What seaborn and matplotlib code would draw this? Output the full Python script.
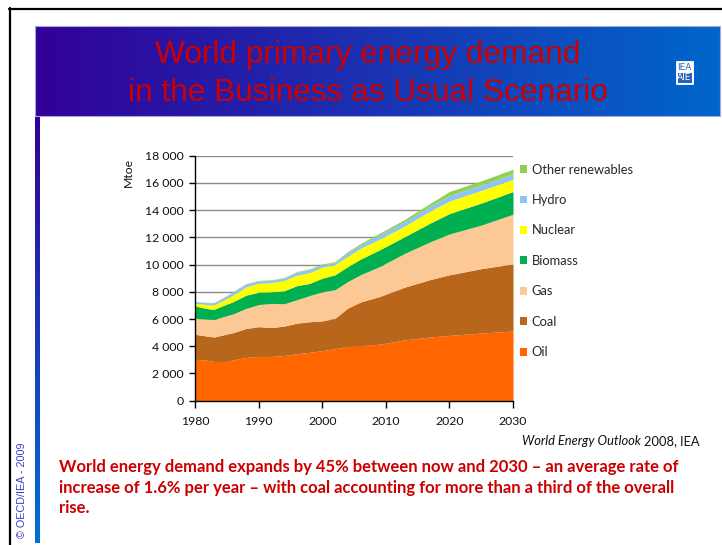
import numpy as np
import matplotlib
matplotlib.use("Agg")
import matplotlib.pyplot as plt
from matplotlib.patches import Patch, Rectangle
from matplotlib.lines import Line2D
from matplotlib.colors import to_rgb
import seaborn as sns

# World primary energy demand by fuel, Mtoe (Reference / Business as Usual)
years = [1980, 1982, 1983, 1985, 1986, 1988, 1990, 1992, 1994, 1996, 1998,
         2000, 2002, 2004, 2006, 2009, 2013, 2017, 2020, 2025, 2030]
oil = [3050, 2960, 2880, 2880, 3000, 3180, 3250, 3250, 3320, 3450, 3550,
       3680, 3820, 4000, 4050, 4150, 4470, 4680, 4800, 4970, 5120]
coal = [1830, 1780, 1800, 2020, 2000, 2120, 2190, 2120, 2160, 2250, 2250,
        2180, 2230, 2800, 3200, 3500, 3880, 4220, 4450, 4730, 4930]
gas = [1170, 1260, 1290, 1350, 1380, 1480, 1620, 1780, 1640, 1720, 1920,
       2140, 2100, 1950, 2000, 2200, 2480, 2780, 3000, 3200, 3650]
biomass = [910, 760, 750, 850, 900, 970, 910, 850, 960, 1030, 900,
           1000, 1100, 1100, 1150, 1230, 1230, 1380, 1500, 1620, 1670]
nuclear = [200, 300, 320, 400, 490, 610, 650, 680, 740, 770, 780,
           800, 750, 750, 800, 780, 780, 880, 920, 930, 900]
hydro = [120, 140, 160, 200, 230, 210, 180, 160, 180, 220, 220,
         170, 150, 250, 250, 320, 320, 370, 400, 400, 410]
other_renewables = [20, 20, 20, 30, 30, 30, 40, 40, 50, 50, 60,
                    70, 70, 100, 100, 120, 170, 200, 300, 300, 330]

fuels = ["Oil", "Coal", "Gas", "Biomass", "Nuclear", "Hydro", "Other renewables"]
fuel_colors = ["#FF6600", "#B8661B", "#FCC896", "#00B050", "#FFFF00", "#8EC3F7", "#92D050"]
x_ticks = [1980, 1990, 2000, 2010, 2020, 2030]
y_ticks = list(range(0, 18001, 2000))

title_lines = ["World primary energy demand", "in the Business as Usual Scenario"]
note_lines = [
    "World energy demand expands by 45% between now and 2030 \u2013 an average rate of",
    "increase of 1.6% per year \u2013 with coal accounting for more than a third of the overall",
    "rise.",
]

sns.set_style("white")
plt.rcParams["font.family"] = ["Lato", "DejaVu Sans"]

W, H = 722, 545
fig = plt.figure(figsize=(W / 100, H / 100), dpi=100)
fig.patch.set_facecolor("white")


def fx(x):
    return x / W


def fy(y):
    return 1 - y / H


def gradient(c1, c2, n=256):
    a, b = np.array(to_rgb(c1)), np.array(to_rgb(c2))
    t = np.linspace(0, 1, n)[:, None]
    return a + (b - a) * t


# slide frame
fig.add_artist(Line2D([fx(9), fx(722)], [fy(8.5), fy(8.5)], color="black", lw=1.6))
fig.add_artist(Line2D([fx(9.5), fx(9.5)], [fy(8), fy(545)], color="black", lw=1.6))

# title banner with horizontal gradient
bax = fig.add_axes([fx(35), fy(116), fx(720) - fx(35), fy(26) - fy(116)])
bax.imshow(gradient("#330099", "#0066CC")[None, :, :], aspect="auto", extent=[0, 1, 0, 1])
bax.set_xlim(0, 1)
bax.set_ylim(0, 1)
bax.axis("off")
fig.add_artist(Rectangle((fx(35), fy(116)), fx(720) - fx(35), fy(26) - fy(116),
                         transform=fig.transFigure, fill=False, ec="#A8A8E0", lw=0.8))
fig.text(fx(368), fy(55), title_lines[0], ha="center", va="center", color="#CC0000",
         fontsize=22.8, family="Liberation Sans")
fig.text(fx(368), fy(93), title_lines[1], ha="center", va="center", color="#CC0000",
         fontsize=22.8, family="Liberation Sans")

# logo box
fig.add_artist(Rectangle((fx(676), fy(84)), fx(17), fy(61) - fy(84), transform=fig.transFigure,
                         fc="white", ec="white", lw=0.6))
fig.add_artist(Rectangle((fx(677.5), fy(82.5)), fx(14), fy(73) - fy(82.5), transform=fig.transFigure,
                         fc="#2a5fc0", ec="none"))
fig.text(fx(684.5), fy(67), "IEA", ha="center", va="center", color="#2a5fc0", fontsize=6.4,
         family="Liberation Sans Narrow")
fig.text(fx(684.5), fy(78), "AIE", ha="center", va="center", color="white", fontsize=6.4,
         family="Liberation Sans Narrow")

# vertical side bar
sax = fig.add_axes([fx(35), fy(543), fx(5), fy(117) - fy(543)])
sax.imshow(gradient("#330099", "#0070D8")[:, None, :], aspect="auto", extent=[0, 1, 0, 1])
sax.axis("off")
fig.text(fx(22.5), fy(490), "\u00a9 OECD/IEA - 2009", rotation=90, ha="center", va="center",
         color="#3B3BC8", fontsize=7.8, family="Liberation Sans")

# stacked area chart
ax = fig.add_axes([fx(195), fy(400.7), fx(513) - fx(195), fy(155.7) - fy(400.7)])
series = [oil, coal, gas, biomass, nuclear, hydro, other_renewables]
ax.stackplot(years, *series, colors=fuel_colors, labels=fuels, lw=0, zorder=2)
ax.set_xlim(1980, 2030)
ax.set_ylim(0, 18000)
ax.set_yticks(y_ticks)
ax.set_yticklabels([f"{v:,}".replace(",", " ") for v in y_ticks])
ax.set_xticks(x_ticks)
ax.yaxis.grid(True, color="#8C8C8C", lw=1.0, zorder=0)
ax.xaxis.grid(False)
ax.set_axisbelow(True)
for side in ("top", "right"):
    ax.spines[side].set_visible(False)
for side in ("left", "bottom"):
    ax.spines[side].set_color("black")
    ax.spines[side].set_linewidth(1.0)
    ax.spines[side].set_zorder(3)
ax.tick_params(axis="both", which="major", direction="out", length=4, width=1,
               color="black", labelsize=8.8, labelcolor="#111111", left=True, bottom=True)
ax.tick_params(axis="y", pad=4)
ax.tick_params(axis="x", pad=6, length=5)

fig.text(fx(128), fy(172), "Mtoe", rotation=90, ha="center", va="center", fontsize=8.8,
         color="#111111")

# legend, top entry first
handles = [Patch(facecolor=c, edgecolor="none") for c in fuel_colors][::-1]
ax.legend(handles, fuels[::-1], loc="upper left", bbox_to_anchor=(fx(520), fy(163.5)),
          bbox_transform=fig.transFigure, frameon=False, fontsize=9.3,
          handlelength=0.55, handleheight=0.55, handletextpad=0.35, labelspacing=1.43,
          borderaxespad=0, borderpad=0)

# source line
renderer = fig.canvas.get_renderer()
src = fig.text(fx(700), fy(441), "2008, IEA", ha="right", va="center", fontsize=9.3,
               color="#111111")
bb = src.get_window_extent(renderer)
fig.text((bb.x0 - 3) / W, fy(441), "World Energy Outlook", ha="right", va="center",
         fontsize=9.3, style="italic", color="#111111")

# bold red note
for i, line in enumerate(note_lines):
    fig.text(fx(59), fy(467 + 20.5 * i), line, ha="left", va="center", color="#CC0000",
             fontsize=12, fontweight="bold")

fig.savefig("out.png", dpi=100)
